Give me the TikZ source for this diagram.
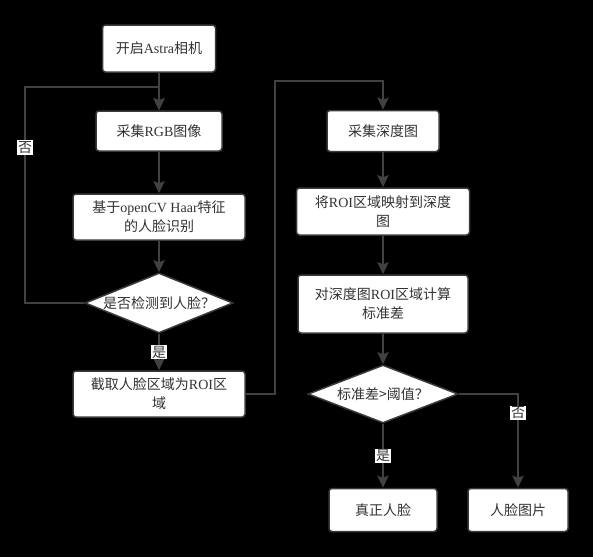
\documentclass[tikz,border=0pt]{standalone}
\usepackage{fontspec}
\setmainfont{Noto Sans CJK SC}
\newfontfamily\latinserif{Liberation Serif}
\newcommand{\lat}[1]{{\latinserif #1}}
\usetikzlibrary{arrows.meta}
\usetikzlibrary{shapes.geometric}
\definecolor{linegray}{HTML}{414141}
\definecolor{edgegray}{HTML}{3A3A3A}
\definecolor{textgray}{HTML}{333333}

\begin{document}
\begin{tikzpicture}[
    x=1pt, y=-1pt,
    box/.style={rectangle, rounded corners=3pt, draw=edgegray, line width=1.5pt, fill=white, text=textgray, align=center, font=\fontsize{14}{19}\selectfont, inner sep=2pt},
    decision/.style={diamond, aspect=2.5, draw=edgegray, line width=1.5pt, fill=white, text=textgray, inner sep=0pt, font=\fontsize{14}{19}\selectfont},
    arrow/.style={-{Stealth[length=12pt, width=11pt, inset=2pt]}, line width=2.5pt, draw=linegray},
    lbl/.style={fill=white, text=textgray, inner sep=1pt, font=\fontsize{14}{16}\selectfont}
]
\fill[black] (0,0) rectangle (593,557);
\useasboundingbox (0,0) rectangle (593,557);

% left column
\node[box, minimum width=113pt, minimum height=47pt] (start) at (159,48.5) {开启\lat{Astra}相机};
\node[box, minimum width=126pt, minimum height=40pt] (rgb) at (159,131) {采集\lat{RGB}图像};
\node[box, minimum width=172pt, minimum height=46pt] (detect) at (159,217) {基于\lat{openCV Haar}特征\\的人脸识别};
\node[decision, minimum width=148pt, minimum height=60pt] (hasface) at (159,303) {是否检测到人脸？};
\node[box, minimum width=172pt, minimum height=46pt] (roi) at (159,394) {截取人脸区域为\lat{ROI}区\\域};

% right column
\node[box, minimum width=112pt, minimum height=41pt] (depth) at (383,131) {采集深度图};
\node[box, minimum width=173pt, minimum height=47pt] (mapping) at (383,211.5) {将\lat{ROI}区域映射到深度\\图};
\node[box, minimum width=170pt, minimum height=58pt] (stddev) at (383,304) {对深度图\lat{ROI}区域计算\\标准差};
\node[decision, minimum width=150pt, minimum height=58pt] (thresh) at (383,394) {标准差>阈值？};
\node[box, minimum width=108pt, minimum height=43pt] (real) at (383,510) {真正人脸};
\node[box, minimum width=100pt, minimum height=43pt] (photo) at (518,510) {人脸图片};

\coordinate (loopTop) at (25,87);
\coordinate (jumpTop) at (275,81);

\draw[arrow] (start) -- (rgb);
\draw[arrow] (rgb) -- (detect);
\draw[arrow] (detect) -- (hasface);
\draw[arrow] (hasface.west) -| node[lbl, pos=0.86] {否} (loopTop) -| (rgb.north);
\draw[arrow] (hasface) -- node[lbl] {是} (roi);
\draw[arrow] (roi.east) -| (jumpTop) -| (depth.north);

\draw[arrow] (depth) -- (mapping);
\draw[arrow] (mapping) -- (stddev);
\draw[arrow] (stddev) -- (thresh);
\draw[arrow] (thresh) -- node[lbl] {是} (real);
\draw[arrow] (thresh.east) -| node[lbl, pos=0.6] {否} (photo.north);
\end{tikzpicture}
\end{document}
